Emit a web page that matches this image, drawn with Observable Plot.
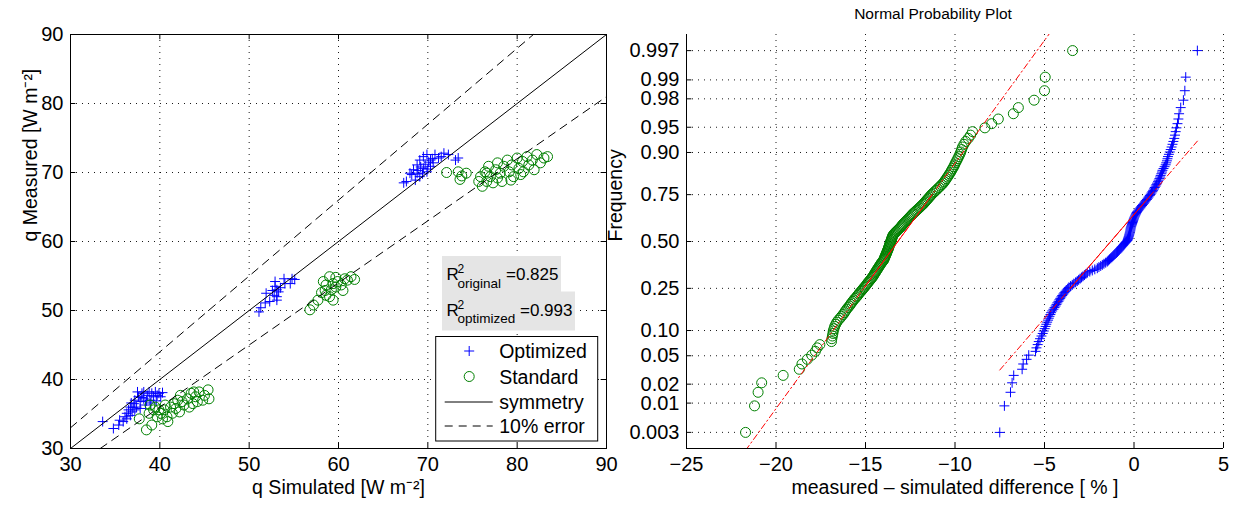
<!DOCTYPE html>
<html><head><meta charset="utf-8">
<script src="https://cdn.jsdelivr.net/npm/d3@7"></script>
<script src="https://cdn.jsdelivr.net/npm/@observablehq/plot@0.6"></script>
<style>
html,body{margin:0;padding:0;background:#fff;}
#wrap{position:relative;width:1235px;height:508px;overflow:hidden;font-family:"Liberation Sans",Arial,Helvetica,sans-serif;}
#left{position:absolute;left:0;top:0;}
#right{position:absolute;left:590px;top:0;}
#wrap svg g[aria-label="x-axis tick label"], #wrap svg g[aria-label="y-axis tick label"] { font-size: 20px; }
</style></head><body><div id="wrap"><div id="left"></div><div id="right"></div></div>
<script>
// ---------- LEFT PANEL DATA ----------
const leftTicksX = [30, 40, 50, 60, 70, 80, 90];
const leftTicksY = [30, 40, 50, 60, 70, 80, 90];
const optSim = [33.6,34.8,35.4,35.5,35.9,36.1,36.3,36.5,36.7,36.9,37.1,37.2,37.4,37.6,37.8,38.0,38.2,38.4,38.6,38.8,38.9,39.1,39.3,39.5,39.7,39.9,40.1,36.7,37.2,37.8,36.3,37.5,38.2,37.0,38.5,39.0,37.9,36.8,40.3,39.6,
  51.1,51.3,51.8,52.3,51.9,52.6,52.9,52.9,53.1,53.3,53.5,53.1,53.9,54.0,54.6,54.8,55.1,52.8,53.1,
  67.3,67.6,68.2,68.4,68.8,69.1,69.5,69.9,70.3,70.8,71.2,71.8,72.3,73.1,73.4,68.8,69.1,69.5,69.9,70.3,70.6,68.6,68.0,69.2,69.7,70.1,68.9,70.5,71.5,70.0,69.4];
const optMeas = [33.9,32.9,33.4,34.1,33.9,34.6,35.1,35.6,36.0,35.3,36.5,37.0,36.0,37.5,36.8,38.0,37.2,36.3,37.7,38.2,37.0,38.0,37.5,38.2,37.7,38.0,37.5,34.8,35.6,35.8,34.3,38.2,38.2,35.9,36.9,36.6,37.4,36.6,38.1,36.9,
  49.8,50.4,51.1,51.3,52.5,52.9,53.5,54.2,51.5,52.7,53.3,53.0,54.6,53.9,53.9,54.6,54.5,52.2,52.0,
  68.5,68.7,69.7,70.4,71.1,71.8,72.3,72.6,71.8,72.6,72.1,72.8,72.6,71.8,72.1,69.9,69.4,70.6,70.1,70.9,71.4,68.9,69.9,70.8,71.2,71.5,70.3,72.0,72.3,70.5,69.8];
const stdSim = [37.7,38.5,39.1,38.9,39.3,39.7,40.1,40.5,40.9,41.2,41.6,42.0,42.2,42.3,42.7,43.1,43.5,43.7,44.0,44.4,44.8,45.4,45.5,38.8,39.5,39.9,40.6,41.4,41.8,42.5,43.3,43.8,44.2,45.0,40.8,40.3,
  56.8,57.2,57.7,58.1,58.5,58.6,59.0,59.2,59.4,59.7,59.9,60.3,60.7,61.0,61.4,61.8,58.6,59.4,58.3,59.7,59.0,60.5,
  72.1,73.4,73.8,73.6,74.3,75.7,75.9,76.1,76.4,76.6,76.8,77.0,77.3,77.6,77.8,78.1,78.3,78.5,78.9,79.1,79.4,79.6,80.0,80.2,80.6,80.7,81.1,81.3,81.7,81.9,82.2,82.6,83.0,83.4,77.8,76.6,79.3,80.4];
const stdMeas = [34.3,32.7,33.4,36.3,35.6,34.6,35.1,35.6,33.9,36.0,36.5,37.0,35.3,37.7,36.3,37.2,38.0,36.5,37.5,38.2,37.0,38.5,37.2,35.1,36.0,35.6,36.3,35.1,35.8,36.8,36.0,38.2,36.8,37.7,34.6,34.3,
  50.1,50.8,51.5,52.6,52.9,53.7,52.0,53.0,53.9,53.4,54.2,53.7,54.6,54.4,54.9,54.5,52.2,51.5,54.2,54.8,54.9,52.9,
  70.0,70.1,69.5,69.0,69.9,68.7,69.4,68.0,70.1,68.7,70.9,69.4,68.5,70.4,71.4,69.9,68.7,70.9,71.8,70.1,71.1,69.4,72.1,70.6,71.6,70.1,72.3,71.1,71.8,70.4,72.6,71.4,72.1,72.3,69.2,69.9,68.9,69.7];
// reference lines (simulated, measured) end points
const symX = [30, 90], symY = [30, 90];
const errUpX = [30, 81.82], errUpY = [33, 90];
const errLoX = [33.33, 90], errLoY = [30, 81];
const legendLabels = ["Optimized", "Standard", "symmetry", "10% error"];
const r2Names = ["original", "optimized"];
const r2Values = ["0.825", "0.993"];

// ---------- RIGHT PANEL DATA ----------
const rightTicksX = [-25, -20, -15, -10, -5, 0, 5];
const probTicks = [0.003, 0.01, 0.02, 0.05, 0.10, 0.25, 0.50, 0.75, 0.90, 0.95, 0.98, 0.99, 0.997];
const probTickLabels = ["0.003","0.01","0.02","0.05","0.10","0.25","0.50","0.75","0.90","0.95","0.98","0.99","0.997"];
const zDomain = [-2.98, 2.98];
// sorted measured-simulated differences [%]
const diffStandard = [-21.70,-21.20,-21.00,-20.80,-19.60,-18.70,-18.55,-18.25,-18.00,-17.80,-17.70,-17.55,-16.90,-16.88,-16.85,-16.82,-16.80,-16.76,-16.72,-16.66,
  -16.60,-16.52,-16.42,-16.34,-16.25,-16.18,-16.12,-16.05,-15.98,-15.90,-15.84,-15.78,-15.71,-15.65,-15.58,-15.50,-15.44,-15.38,-15.32,-15.25,
  -15.19,-15.13,-15.07,-15.01,-14.95,-14.90,-14.85,-14.79,-14.73,-14.68,-14.63,-14.58,-14.54,-14.50,-14.46,-14.42,-14.38,-14.34,-14.30,-14.26,
  -14.22,-14.18,-14.14,-14.10,-14.05,-14.00,-13.97,-13.95,-13.92,-13.90,-13.87,-13.85,-13.82,-13.80,-13.78,-13.75,-13.73,-13.71,-13.69,-13.67,
  -13.65,-13.63,-13.61,-13.59,-13.57,-13.55,-13.53,-13.51,-13.49,-13.46,-13.42,-13.37,-13.31,-13.25,-13.19,-13.13,-13.07,-13.02,-12.97,-12.93,
  -12.88,-12.82,-12.76,-12.70,-12.64,-12.58,-12.52,-12.46,-12.40,-12.35,-12.28,-12.21,-12.14,-12.07,-12.00,-11.93,-11.86,-11.79,-11.73,-11.67,
  -11.61,-11.55,-11.49,-11.42,-11.36,-11.30,-11.22,-11.14,-11.06,-10.98,-10.90,-10.82,-10.74,-10.66,-10.60,-10.54,-10.48,-10.42,-10.36,-10.30,
  -10.24,-10.19,-10.13,-10.07,-10.02,-9.97,-9.91,-9.85,-9.79,-9.73,-9.68,-9.63,-9.58,-9.50,-9.40,-9.26,-9.13,-9.02,-8.33,-7.95,
  -7.58,-6.74,-6.46,-5.58,-5.00,-4.96,-3.43];
const diffOptimized = [-7.50,-7.24,-6.90,-6.81,-6.72,-6.25,-6.19,-6.00,-5.88,-5.50,-5.45,-5.38,-5.32,-5.25,-5.17,-5.10,-5.04,-4.99,-4.94,-4.90,
  -4.85,-4.80,-4.76,-4.72,-4.67,-4.63,-4.57,-4.50,-4.44,-4.38,-4.33,-4.28,-4.22,-4.17,-4.12,-4.06,-4.01,-3.95,-3.89,-3.83,
  -3.76,-3.70,-3.64,-3.55,-3.45,-3.36,-3.26,-3.17,-3.09,-3.01,-2.93,-2.85,-2.77,-2.69,-2.61,-2.47,-2.33,-2.19,-2.05,-1.96,
  -1.86,-1.77,-1.68,-1.58,-1.49,-1.43,-1.37,-1.30,-1.24,-1.18,-1.12,-1.06,-0.99,-0.93,-0.88,-0.83,-0.78,-0.73,-0.68,-0.62,
  -0.57,-0.52,-0.47,-0.42,-0.37,-0.35,-0.33,-0.31,-0.29,-0.27,-0.26,-0.24,-0.23,-0.21,-0.20,-0.19,-0.18,-0.16,-0.14,-0.12,
  -0.10,-0.08,-0.06,-0.04,-0.02,0.00,0.03,0.06,0.09,0.12,0.15,0.19,0.24,0.29,0.35,0.40,0.45,0.50,0.56,0.61,
  0.66,0.72,0.77,0.82,0.88,0.93,0.98,1.03,1.07,1.12,1.16,1.21,1.25,1.29,1.34,1.38,1.42,1.46,1.49,1.53,
  1.56,1.59,1.65,1.71,1.77,1.80,1.84,1.87,1.90,1.95,2.00,2.05,2.10,2.15,2.20,2.25,2.29,2.33,2.37,2.43,
  2.48,2.52,2.61,2.76,2.84,2.89,3.54];
// fitted reference lines: x and cumulative probability (end, 1st quartile, 3rd quartile, end)
const fitStdX = [-21.7, -15.1, -11.28, -3.43];
const fitStdP = [0.00132, 0.25, 0.75, 0.99972];
const fitOptX = [-7.5, -3.56, 0.96, 3.54];
const fitOptP = [0.0321, 0.25, 0.75, 0.9258];

// ---------- helpers ----------
function probit(p) {
  const a=[-3.969683028665376e+01,2.209460984245205e+02,-2.759285104469687e+02,1.383577518672690e+02,-3.066479806614716e+01,2.506628277459239e+00];
  const b=[-5.447609879822406e+01,1.615858368580409e+02,-1.556989798598866e+02,6.680131188771972e+01,-1.328068155288572e+01];
  const c=[-7.784894002430293e-03,-3.223964580411365e-01,-2.400758277161838e+00,-2.549732539343734e+00,4.374664141464968e+00,2.938163982698783e+00];
  const d=[7.784695709041462e-03,3.224671290700398e-01,2.445134137142996e+00,3.754408661907416e+00];
  const pl=0.02425, ph=1-pl; let q,r;
  if(p<pl){q=Math.sqrt(-2*Math.log(p));return (((((c[0]*q+c[1])*q+c[2])*q+c[3])*q+c[4])*q+c[5])/((((d[0]*q+d[1])*q+d[2])*q+d[3])*q+1);}
  if(p<=ph){q=p-0.5;r=q*q;return (((((a[0]*r+a[1])*r+a[2])*r+a[3])*r+a[4])*r+a[5])*q/(((((b[0]*r+b[1])*r+b[2])*r+b[3])*r+b[4])*r+1);}
  q=Math.sqrt(-2*Math.log(1-p));return -(((((c[0]*q+c[1])*q+c[2])*q+c[3])*q+c[4])*q+c[5])/((((d[0]*q+d[1])*q+d[2])*q+d[3])*q+1);
}
const FONT = '"Liberation Sans", Arial, Helvetica, sans-serif';
const BLUE = "#0000ff", GREEN = "#008000";
const gridStyle = {stroke: "#000", strokeOpacity: 0.9, strokeWidth: 1, strokeDasharray: "1,5"};

const optimized = optSim.map((s, i) => ({sim: s, meas: optMeas[i]}));
const standard = stdSim.map((s, i) => ({sim: s, meas: stdMeas[i]}));
const symmetry = symX.map((x, i) => ({x, y: symY[i]}));
const errUp = errUpX.map((x, i) => ({x, y: errUpY[i]}));
const errLo = errLoX.map((x, i) => ({x, y: errLoY[i]}));

// ---------- LEFT PLOT ----------
const leftPlot = Plot.plot({
  width: 620, height: 508,
  marginLeft: 70, marginRight: 14, marginTop: 34, marginBottom: 60,
  style: {fontFamily: FONT, fontSize: "20px", color: "#000", background: "transparent", overflow: "visible"},
  x: {domain: [30, 90], label: null},
  y: {domain: [30, 90], label: null},
  marks: [
    Plot.gridX(leftTicksX.slice(1, -1), gridStyle),
    Plot.gridY(leftTicksY.slice(1, -1), gridStyle),
    Plot.dot(optimized, {x: "sim", y: "meas", symbol: "plus", r: 3.3, stroke: BLUE, strokeWidth: 1}),
    Plot.dot(standard, {x: "sim", y: "meas", symbol: "circle", r: 5, stroke: GREEN, fill: "none", strokeWidth: 1}),
    Plot.line(symmetry, {x: "x", y: "y", stroke: "#000", strokeWidth: 1}),
    Plot.line(errUp, {x: "x", y: "y", stroke: "#000", strokeWidth: 1, strokeDasharray: "8,6"}),
    Plot.line(errLo, {x: "x", y: "y", stroke: "#000", strokeWidth: 1, strokeDasharray: "8,6"}),
    Plot.ruleX(leftTicksX, {y1: 30, y2: 30.75, stroke: "#000"}),
    Plot.ruleX(leftTicksX, {y1: 89.25, y2: 90, stroke: "#000"}),
    Plot.ruleY(leftTicksY, {x1: 30, x2: 30.6, stroke: "#000"}),
    Plot.ruleY(leftTicksY, {x1: 89.4, x2: 90, stroke: "#000"}),
    Plot.frame({stroke: "#000", strokeWidth: 1}),
    Plot.axisX(leftTicksX, {tickSize: 0, tickPadding: 8, label: null}),
    Plot.axisY(leftTicksY, {tickSize: 0, tickPadding: 7, label: null}),
    Plot.text(["q Simulated [W m\u207B\u00B2]"], {frameAnchor: "bottom", dy: 45, fontSize: 19.5}),
    Plot.text(["q Measured [W m\u207B\u00B2]"], {frameAnchor: "left", rotate: -90, dx: -40, fontSize: 19.5})
  ]
});
document.getElementById("left").appendChild(leftPlot);

// annotations (R² boxes and legend) drawn inside the left frame
{
  const svg = d3.select(leftPlot);
  const fx = leftPlot.scale("x"), fy = leftPlot.scale("y");
  const right = fx.apply(90), bottom = fy.apply(30);
  const g = svg.append("g").attr("font-family", FONT).attr("fill", "#000").attr("text-anchor", "start");
  // R² boxes
  const boxes = [{x: right - 164, y: bottom - 192, w: 119, h: 36, sub: r2Names[0], val: r2Values[0], vx: 64},
                 {x: right - 164, y: bottom - 156.5, w: 133, h: 39, sub: r2Names[1], val: r2Values[1], vx: 78}];
  boxes.forEach(b => {
    g.append("rect").attr("x", b.x).attr("y", b.y).attr("width", b.w).attr("height", b.h).attr("fill", "#e5e5e5");
    const base = b.y + 24;
    g.append("text").attr("x", b.x + 4.5).attr("y", base).attr("font-size", 17).text("R");
    g.append("text").attr("x", b.x + 15.5).attr("y", base - 7).attr("font-size", 12).text("2");
    g.append("text").attr("x", b.x + 15.5).attr("y", base + 7.5).attr("font-size", 13.5).text(b.sub);
    g.append("text").attr("x", b.x + b.vx).attr("y", base).attr("font-size", 17).text("=" + b.val);
  });
  // legend
  const lx = right - 170.3, ly = bottom - 111.5, lw = 162, lh = 104.5;
  g.append("rect").attr("x", lx).attr("y", ly).attr("width", lw).attr("height", lh)
    .attr("fill", "#fff").attr("stroke", "#000").attr("stroke-width", 1);
  const rows = [ly + 14.5, ly + 40, ly + 65.5, ly + 89.5];
  const sx = lx + 33.5;
  g.append("path").attr("d", `M${sx-5},${rows[0]}H${sx+5}M${sx},${rows[0]-5}V${rows[0]+5}`).attr("stroke", BLUE).attr("fill", "none");
  g.append("circle").attr("cx", sx).attr("cy", rows[1]).attr("r", 5).attr("stroke", GREEN).attr("fill", "none");
  g.append("line").attr("x1", lx + 9).attr("x2", lx + 57).attr("y1", rows[2]).attr("y2", rows[2]).attr("stroke", "#000");
  g.append("line").attr("x1", lx + 9).attr("x2", lx + 57).attr("y1", rows[3]).attr("y2", rows[3]).attr("stroke", "#000").attr("stroke-dasharray", "8,6");
  legendLabels.forEach((t, i) => {
    g.append("text").attr("x", lx + 63.5).attr("y", rows[i]).attr("dy", "0.36em").attr("font-size", 19.5).text(t);
  });
}

// ---------- RIGHT PLOT ----------
const nS = diffStandard.length, nO = diffOptimized.length;
const stdPts = diffStandard.map((x, i) => ({x, z: probit((i + 0.5) / nS)}));
const optPts = diffOptimized.map((x, i) => ({x, z: probit((i + 0.5) / nO)}));
const fitStd = fitStdX.map((x, i) => ({x, z: probit(fitStdP[i])}));
const fitOpt = fitOptX.map((x, i) => ({x, z: probit(fitOptP[i])}));
const zTicks = probTicks.map(probit);
const zLabel = new Map(zTicks.map((z, i) => [z, probTickLabels[i]]));

const rightPlot = Plot.plot({
  width: 645, height: 508,
  marginLeft: 96, marginRight: 12, marginTop: 34, marginBottom: 60,
  style: {fontFamily: FONT, fontSize: "20px", color: "#000", background: "transparent", overflow: "visible"},
  x: {domain: [-25, 5], label: null},
  y: {domain: zDomain, label: null},
  marks: [
    Plot.gridX(rightTicksX.slice(1), gridStyle),
    Plot.gridY(zTicks, gridStyle),
    Plot.dot(stdPts, {x: "x", y: "z", symbol: "circle", r: 5, stroke: GREEN, fill: "none", strokeWidth: 1}),
    Plot.dot(optPts, {x: "x", y: "z", symbol: "plus", r: 3.3, stroke: BLUE, strokeWidth: 1}),
    Plot.line(fitStd, {x: "x", y: "z", stroke: "#ff0000", strokeWidth: 1, strokeDasharray: "6,3,1.5,3", clip: true}),
    Plot.line(fitStd.slice(1, 3), {x: "x", y: "z", stroke: "#ff0000", strokeWidth: 1}),
    Plot.line(fitOpt, {x: "x", y: "z", stroke: "#ff0000", strokeWidth: 1, strokeDasharray: "6,3,1.5,3", clip: true}),
    Plot.line(fitOpt.slice(1, 3), {x: "x", y: "z", stroke: "#ff0000", strokeWidth: 1}),
    Plot.ruleX([-25], {stroke: "#000"}),
    Plot.ruleY([zDomain[0]], {stroke: "#000"}),
    Plot.ruleX(rightTicksX, {y1: zDomain[0], y2: zDomain[0] + 0.075, stroke: "#000"}),
    Plot.ruleY(zTicks, {x1: -25, x2: -24.7, stroke: "#000"}),
    Plot.axisX(rightTicksX, {tickSize: 0, tickPadding: 8, label: null}),
    Plot.axisY(zTicks, {tickSize: 0, tickPadding: 7, label: null, tickFormat: z => zLabel.get(z)}),
    Plot.text(["Normal Probability Plot"], {frameAnchor: "top", dx: -22, dy: -27, fontSize: 15.5}),
    Plot.text(["measured \u2013 simulated difference [ % ]"], {frameAnchor: "bottom", dy: 45, fontSize: 19.5}),
    Plot.text(["Frequency"], {frameAnchor: "left", rotate: -90, dx: -71, fontSize: 19.5})
  ]
});
document.getElementById("right").appendChild(rightPlot);
</script></body></html>
